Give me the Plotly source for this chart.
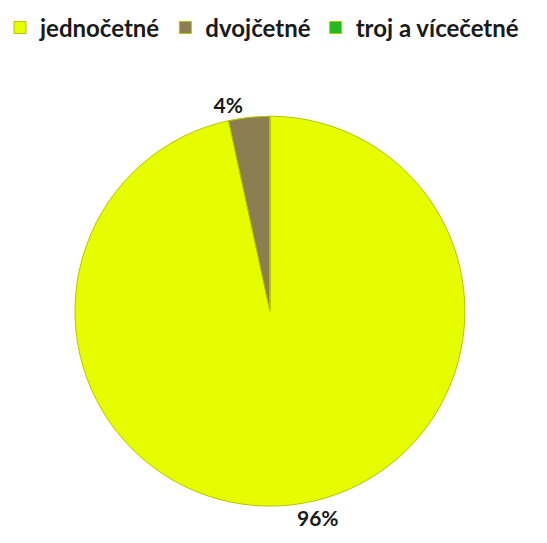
import plotly.graph_objects as go

categories = ["jednočetné", "dvojčetné", "troj a vícečetné"]
values = [96.5, 3.4, 0.0]
labels_text = ["96%", "4%", ""]
colors = ["#e6fd00", "#8b7f52", "#22bb22"]

fig = go.Figure(go.Pie(
    labels=categories,
    values=values,
    text=labels_text,
    textinfo="text",
    textposition="outside",
    sort=False,
    direction="clockwise",
    rotation=0,
    marker=dict(colors=colors, line=dict(color="#b8c400", width=1)),
    textfont=dict(family="Lato", size=21, color="#1a1a1a", weight="bold"),
    showlegend=True,
    hoverinfo="label+percent",
    domain=dict(x=[0.137, 0.850], y=[0.068, 0.786]),
))

fig.update_layout(
    width=547, height=543,
    margin=dict(l=0, r=0, t=0, b=0),
    paper_bgcolor="white",
    plot_bgcolor="white",
    font=dict(family="Lato", size=21, color="#1a1a1a"),
    legend=dict(
        orientation="h",
        x=0.0, y=0.99, xanchor="left", yanchor="top",
        font=dict(family="Lato", size=24, color="#1a1a1a", weight="bold"),
        itemwidth=30,
        traceorder="normal",
    ),
)

fig.write_html("out.html")
